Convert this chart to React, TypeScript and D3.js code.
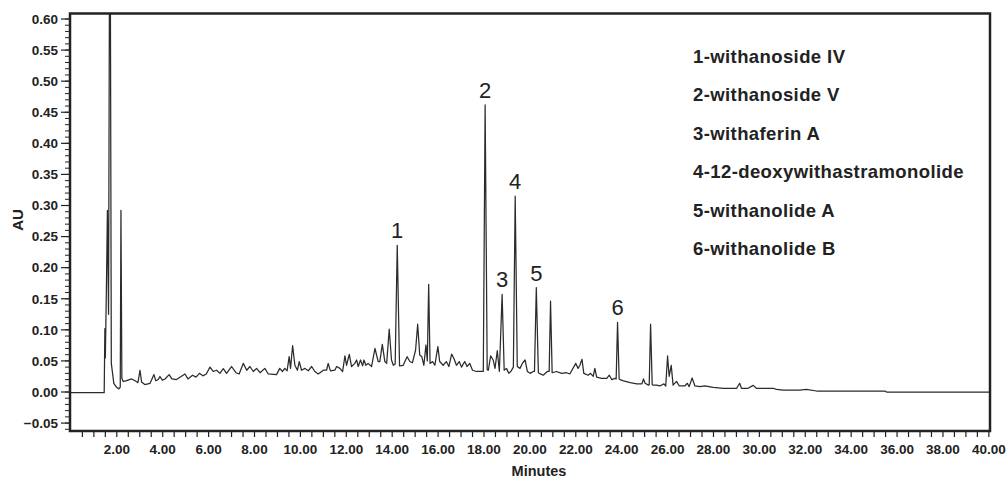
import * as d3 from 'd3';

// chromatogram trace: [minutes, AU]
const trace: [number, number][] = [
  [-0.04, -0.001], [1.45, -0.001], [1.48, 0.102], [1.5, 0.055], [1.55, 0.176],
  [1.59, 0.292], [1.64, 0.125], [1.7, 0.95], [1.76, 0.046], [1.87, 0.014],
  [1.99, 0.0075], [2.09, 0.005], [2.15, 0.008], [2.18, 0.292], [2.22, 0.022],
  [2.28, 0.017], [2.4, 0.018], [2.64, 0.021], [2.8, 0.018], [2.92, 0.015],
  [3.01, 0.035], [3.08, 0.016], [3.22, 0.012], [3.45, 0.014], [3.62, 0.028],
  [3.7, 0.018], [3.8, 0.02], [3.88, 0.025], [3.98, 0.019], [4.1, 0.021],
  [4.28, 0.028], [4.4, 0.021], [4.6, 0.02], [4.97, 0.029], [5.1, 0.021],
  [5.3, 0.027], [5.45, 0.024], [5.6, 0.03], [5.75, 0.026], [5.9, 0.029],
  [6.06, 0.04], [6.2, 0.033], [6.35, 0.035], [6.49, 0.03], [6.64, 0.0375],
  [6.78, 0.03], [7.0, 0.041], [7.19, 0.031], [7.33, 0.029], [7.51, 0.046],
  [7.66, 0.035], [7.8, 0.041], [7.95, 0.033], [8.09, 0.038], [8.24, 0.031],
  [8.45, 0.038], [8.6, 0.029], [8.96, 0.028], [9.1, 0.038], [9.22, 0.033],
  [9.32, 0.038], [9.42, 0.034], [9.51, 0.057], [9.57, 0.038], [9.66, 0.0745],
  [9.76, 0.043], [9.87, 0.035], [9.95, 0.049], [10.05, 0.035], [10.2, 0.038],
  [10.34, 0.034], [10.49, 0.041], [10.63, 0.033], [10.78, 0.029], [11.0, 0.035],
  [11.14, 0.035], [11.21, 0.046], [11.31, 0.034], [11.5, 0.035], [11.58, 0.041],
  [11.72, 0.038], [11.84, 0.033], [11.94, 0.058], [12.01, 0.043], [12.13, 0.0606],
  [12.23, 0.041], [12.37, 0.046], [12.45, 0.0515], [12.52, 0.041], [12.62, 0.0515],
  [12.71, 0.042], [12.77, 0.0515], [12.85, 0.043], [12.95, 0.046], [13.1, 0.041],
  [13.25, 0.07], [13.39, 0.049], [13.46, 0.049], [13.57, 0.0767], [13.68, 0.049],
  [13.76, 0.046], [13.87, 0.101], [13.97, 0.0515], [14.05, 0.043], [14.13, 0.045],
  [14.22, 0.236], [14.32, 0.042], [14.48, 0.043], [14.65, 0.0568], [14.77, 0.049],
  [14.88, 0.047], [15.02, 0.0676], [15.11, 0.109], [15.2, 0.0595], [15.29, 0.0568],
  [15.38, 0.043], [15.47, 0.0756], [15.53, 0.05], [15.59, 0.173], [15.65, 0.046],
  [15.76, 0.049], [15.86, 0.043], [15.99, 0.0729], [16.07, 0.049], [16.22, 0.043],
  [16.36, 0.049], [16.47, 0.041], [16.59, 0.061], [16.69, 0.054], [16.8, 0.043],
  [16.92, 0.049], [17.02, 0.04], [17.16, 0.049], [17.26, 0.041], [17.38, 0.046],
  [17.5, 0.035], [17.67, 0.033], [17.97, 0.033], [18.05, 0.462], [18.14, 0.036],
  [18.19, 0.035], [18.29, 0.058], [18.4, 0.0515], [18.48, 0.038], [18.58, 0.0664],
  [18.67, 0.033], [18.79, 0.157], [18.88, 0.035], [18.98, 0.038], [19.08, 0.03],
  [19.17, 0.033], [19.28, 0.04], [19.36, 0.315], [19.45, 0.041], [19.57, 0.038],
  [19.67, 0.046], [19.79, 0.0515], [19.89, 0.033], [20.01, 0.03], [20.15, 0.033],
  [20.2, 0.033], [20.28, 0.168], [20.37, 0.031], [20.41, 0.03], [20.58, 0.027],
  [20.76, 0.033], [20.84, 0.033], [20.9, 0.146], [20.97, 0.031], [21.16, 0.033],
  [21.38, 0.03], [21.6, 0.031], [21.74, 0.029], [22.0, 0.046], [22.1, 0.038],
  [22.18, 0.043], [22.27, 0.0526], [22.35, 0.03], [22.54, 0.027], [22.64, 0.03],
  [22.76, 0.025], [22.83, 0.038], [22.91, 0.024], [23.13, 0.022], [23.35, 0.022],
  [23.46, 0.027], [23.57, 0.02], [23.71, 0.022], [23.76, 0.021], [23.82, 0.112],
  [23.89, 0.021], [23.93, 0.02], [24.08, 0.018], [24.37, 0.015], [24.66, 0.013],
  [24.88, 0.013], [24.95, 0.021], [25.02, 0.014], [25.17, 0.011], [25.2, 0.012],
  [25.26, 0.109], [25.33, 0.012], [25.37, 0.011], [25.52, 0.011], [25.66, 0.0097],
  [25.84, 0.013], [25.92, 0.0097], [26.0, 0.058], [26.07, 0.025], [26.16, 0.043],
  [26.24, 0.011], [26.39, 0.017], [26.51, 0.0097], [26.75, 0.0097], [26.86, 0.014],
  [26.94, 0.0086], [27.07, 0.0225], [27.19, 0.0097], [27.41, 0.0086], [27.62, 0.0097],
  [27.99, 0.0075], [28.42, 0.006], [29.01, 0.006], [29.14, 0.014], [29.22, 0.006],
  [29.51, 0.006], [29.73, 0.0107], [29.87, 0.006], [30.6, 0.006], [30.75, 0.0043],
  [31.04, 0.0032], [31.76, 0.0032], [32.05, 0.0043], [32.49, 0.0016], [35.47, 0.0016],
  [35.54, 0.0], [40.05, 0.0],
];

const peakIds = ['1', '2', '3', '4', '5', '6'];
const peakTimes = [14.22, 18.05, 18.79, 19.36, 20.28, 23.82];
const peakHeights = [0.236, 0.462, 0.157, 0.315, 0.168, 0.112];

const compounds = [
  '1-withanoside IV',
  '2-withanoside V',
  '3-withaferin A',
  '4-12-deoxywithastramonolide',
  '5-withanolide A',
  '6-withanolide B',
];

const yTickValues = [-0.05, 0, 0.05, 0.1, 0.15, 0.2, 0.25, 0.3, 0.35, 0.4, 0.45, 0.5, 0.55, 0.6];
const xTickValues = [2, 4, 6, 8, 10, 12, 14, 16, 18, 20, 22, 24, 26, 28, 30, 32, 34, 36, 38, 40];

const W = 1007;
const H = 480;
const plot = { left: 70, right: 990, top: 13.5, bottom: 431 };
const font = '"Liberation Sans", Arial, sans-serif';
const ink = '#222';

export default function App() {
  const x = d3.scaleLinear().domain([-0.04, 40.05]).range([plot.left, plot.right]);
  const y = d3.scaleLinear().domain([0, 0.6]).range([392, 19]);

  const line = d3
    .line<[number, number]>()
    .x((d) => x(d[0]))
    .y((d) => y(d[1]));

  const yMinor = d3.range(-6, 61).map((i) => i / 100);
  const xMinor = d3.range(1, 81).map((i) => i / 2);

  return (
    <svg width={W} height={H} style={{ position: 'absolute', left: 0, top: 0 }} fontFamily={font}>
      <defs>
        <clipPath id="plot-clip">
          <rect x={plot.left} y={plot.top} width={plot.right - plot.left} height={plot.bottom - plot.top} />
        </clipPath>
      </defs>
      <rect width={W} height={H} fill="#fff" />

      {/* trace */}
      <path d={line(trace) ?? ''} fill="none" stroke="#2b2b2b" strokeWidth={1.25} strokeLinejoin="round" clipPath="url(#plot-clip)" />

      {/* peak numbers */}
      {peakIds.map((id, i) => (
        <text key={id} x={x(peakTimes[i])} y={y(peakHeights[i]) - 7} textAnchor="middle" fontSize={22} fill={ink}>
          {id}
        </text>
      ))}

      {/* legend */}
      {compounds.map((c, i) => (
        <text key={c} x={693} y={62.5 + i * 38.5} fontSize={18.5} fontWeight="bold" letterSpacing={0.4} fill={ink}>
          {c}
        </text>
      ))}

      {/* y ticks */}
      {yMinor.map((v) => (
        <line key={'ym' + v} x1={plot.left - 5} x2={plot.left} y1={y(v)} y2={y(v)} stroke={ink} strokeWidth={1} />
      ))}
      {yTickValues.map((v) => (
        <g key={'y' + v}>
          <line x1={plot.left - 9} x2={plot.left} y1={y(v)} y2={y(v)} stroke={ink} strokeWidth={1.2} />
          <text x={58} y={y(v) + 4.8} textAnchor="end" fontSize={13.5} fontWeight="bold" fill={ink}>
            {d3.format('.2f')(v)}
          </text>
        </g>
      ))}

      {/* x ticks */}
      {xMinor.map((v) => (
        <line key={'xm' + v} x1={x(v)} x2={x(v)} y1={plot.bottom} y2={plot.bottom + 6} stroke={ink} strokeWidth={1.2} />
      ))}
      {xTickValues.map((v) => (
        <text key={'x' + v} x={x(v)} y={454} textAnchor="middle" fontSize={13.5} fontWeight="bold" fill={ink}>
          {d3.format('.2f')(v)}
        </text>
      ))}

      {/* frame */}
      <rect x={plot.left} y={plot.top} width={plot.right - plot.left} height={plot.bottom - plot.top} fill="none" stroke={ink} strokeWidth={2.5} />

      {/* axis titles */}
      <text transform={`translate(23,220) rotate(-90)`} textAnchor="middle" fontSize={15} fontWeight="bold" fill={ink}>
        AU
      </text>
      <text x={539} y={476} textAnchor="middle" fontSize={14.5} fontWeight="bold" fill={ink}>
        Minutes
      </text>
    </svg>
  );
}
